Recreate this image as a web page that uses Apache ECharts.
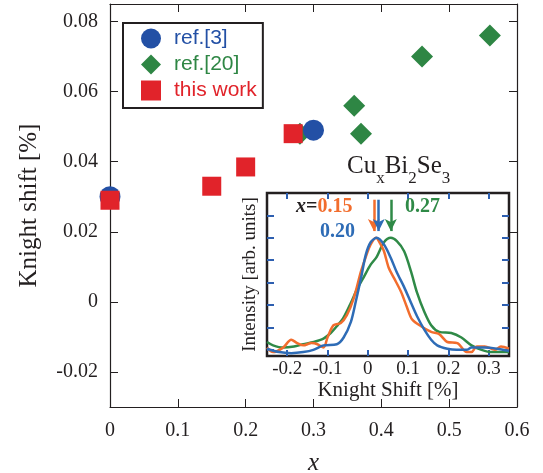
<!DOCTYPE html>
<html>
<head>
<meta charset="utf-8">
<script src="https://cdn.jsdelivr.net/npm/echarts@6/dist/echarts.min.js"></script>
<style>
  html, body { margin: 0; padding: 0; background: #fff; }
  #chart { width: 543px; height: 473px; }
</style>
</head>
<body>
<div id="chart"></div>
<script>
// main panel: Knight shift vs x
const ref3X = [0.0, 0.30]
const ref3Y = [0.030, 0.049]
const ref20X = [0.28, 0.36, 0.37, 0.46, 0.56]
const ref20Y = [0.048, 0.056, 0.048, 0.070, 0.076]
const workX = [0.0, 0.15, 0.20, 0.27]
const workY = [0.029, 0.033, 0.0385, 0.048]
const mainYTicks = [-0.02, 0, 0.02, 0.04, 0.06, 0.08]

// inset: NMR spectra (Knight shift [%], normalized intensity)
const shift15 = [-0.25, -0.235, -0.21, -0.19, -0.175, -0.16, -0.14, -0.125, -0.11, -0.10, -0.085, -0.067, -0.052, -0.035, -0.017, -0.005, 0.007, 0.02, 0.032, 0.04, 0.052, 0.065, 0.082, 0.097, 0.11, 0.132, 0.157, 0.177, 0.197, 0.222, 0.245, 0.257, 0.27, 0.29, 0.315, 0.33, 0.35]
const int15 = [0.02, -0.02, 0.02, 0.09, 0.06, 0.04, 0.06, 0.05, 0.02, 0.11, 0.22, 0.24, 0.31, 0.46, 0.70, 0.83, 0.94, 1.0, 0.94, 0.88, 0.73, 0.64, 0.52, 0.38, 0.27, 0.21, 0.16, 0.14, 0.07, 0.06, -0.02, -0.02, 0.03, 0.03, 0.0, 0.03, 0.01]
const shift20 = [-0.25, -0.22, -0.19, -0.16, -0.135, -0.11, -0.077, -0.06, -0.042, -0.03, -0.017, -0.005, 0.007, 0.022, 0.04, 0.057, 0.072, 0.09, 0.107, 0.122, 0.14, 0.157, 0.172, 0.197, 0.22, 0.245, 0.257, 0.29, 0.32, 0.35]
const int20 = [0.01, -0.02, -0.03, -0.02, 0.0, 0.04, 0.05, 0.11, 0.25, 0.43, 0.64, 0.85, 0.96, 1.0, 0.94, 0.82, 0.69, 0.56, 0.42, 0.30, 0.18, 0.09, 0.04, 0.01, 0.0, 0.0, 0.02, 0.02, 0.01, -0.01]
const shift27 = [-0.25, -0.235, -0.21, -0.183, -0.16, -0.134, -0.11, -0.092, -0.077, -0.06, -0.042, -0.027, -0.01, 0.007, 0.022, 0.04, 0.057, 0.072, 0.09, 0.107, 0.122, 0.14, 0.157, 0.177, 0.207, 0.232, 0.257, 0.282, 0.307, 0.35]
const int27 = [0.07, 0.04, 0.02, 0.03, 0.05, 0.07, 0.10, 0.15, 0.21, 0.29, 0.42, 0.54, 0.65, 0.76, 0.83, 0.96, 1.0, 0.97, 0.88, 0.70, 0.51, 0.34, 0.22, 0.16, 0.15, 0.11, 0.04, 0.0, -0.02, -0.02]
const insetXTicks = [-0.2, -0.1, 0, 0.1, 0.2, 0.3]
const insetYTicks = [0, 0.2, 0.4, 0.6, 0.8, 1.0, 1.2]
// arrows marking the peak positions
const peak15 = 0.015
const peak20 = 0.027
const peak27 = 0.057

const serif = "'Liberation Serif', 'Times New Roman', serif"
const sans = "'Liberation Sans', Arial, sans-serif"
const black = '#231f20'
const tickBlue = '#2d5fb0'

const cBlue = '#2350a5'
const cGreen = '#2e8644'
const cRed = '#e1232a'
const cOrange = '#f26d2d'
const cLBlue = '#2e6cb6'
const cLGreen = '#2f8a47'

function zip (xs, ys) {
  return xs.map((x, i) => [x, ys[i]])
}

function arrow (x, color) {
  return {
    silent: true,
    animation: false,
    symbol: ['none', 'arrow'],
    symbolSize: [9, 12],
    label: { show: false },
    emphasis: { disabled: true },
    lineStyle: { color: color, width: 2.5, type: 'solid' },
    data: [[{ coord: [x, 1.34] }, { coord: [x, 1.06] }]]
  }
}

function fmt (v) {
  return v === 0 ? '0' : String(v)
}

const chart = echarts.init(document.getElementById('chart'))

chart.setOption({
  animation: false,
  backgroundColor: '#fff',
  title: {
    text: '{m|Cu}{s|x}{m|Bi}{s|2}{m|Se}{s|3}',
    left: 347,
    top: 154,
    padding: 0,
    textStyle: {
      fontWeight: 'normal',
      rich: {
        m: { fontFamily: serif, fontWeight: 'normal', fontSize: 25, color: black, lineHeight: 25, verticalAlign: 'top' },
        s: { fontFamily: serif, fontWeight: 'normal', fontSize: 17, color: black, lineHeight: 33, verticalAlign: 'bottom' }
      }
    }
  },
  legend: {
    left: 123,
    top: 23,
    orient: 'vertical',
    selectedMode: false,
    padding: [5, 6, 7, 18],
    itemGap: 5,
    itemWidth: 20,
    itemHeight: 20,
    borderColor: black,
    borderWidth: 2,
    textStyle: { fontFamily: sans, fontSize: 21, padding: [0, 0, 0, 8] },
    data: [
      { name: 'ref.[3]', textStyle: { color: cBlue } },
      { name: 'ref.[20]', textStyle: { color: cGreen } },
      { name: 'this work', textStyle: { color: cRed } }
    ]
  },
  grid: [
    { left: 110, top: 4, width: 407, height: 403, show: false, outerBoundsMode: 'none' },
    { left: 267, top: 193, width: 242, height: 163, show: true, backgroundColor: '#fff', borderColor: black, borderWidth: 2.5, outerBoundsMode: 'none' }
  ],
  xAxis: [
    {
      type: 'value', gridIndex: 0, min: 0, max: 0.6, interval: 0.1, position: 'bottom',
      name: 'x', nameLocation: 'middle', nameGap: 44,
      nameTextStyle: { fontFamily: serif, fontStyle: 'italic', fontSize: 25, color: black },
      axisLine: { show: true, onZero: false, lineStyle: { color: black, width: 1.2 } },
      axisTick: { inside: true, length: 8, lineStyle: { color: black } },
      axisLabel: { fontFamily: serif, fontSize: 20, color: black, margin: 14, formatter: fmt },
      splitLine: { show: false }
    },
    {
      type: 'value', gridIndex: 0, min: 0, max: 0.6, interval: 0.1, position: 'top',
      axisLine: { show: true, onZero: false, lineStyle: { color: black, width: 1.2 } },
      axisTick: { inside: true, length: 8, lineStyle: { color: black } },
      axisLabel: { show: false },
      splitLine: { show: false }
    },
    {
      type: 'value', gridIndex: 1, min: -0.25, max: 0.35, position: 'bottom',
      name: 'Knight Shift [%]', nameLocation: 'middle', nameGap: 24,
      nameTextStyle: { fontFamily: serif, fontSize: 21, color: black },
      axisLine: { show: false, onZero: false },
      axisTick: { inside: true, length: 6, customValues: insetXTicks, lineStyle: { color: tickBlue, width: 2 } },
      axisLabel: { fontFamily: serif, fontSize: 19, color: black, margin: 4, customValues: insetXTicks, formatter: fmt },
      splitLine: { show: false }
    },
    {
      type: 'value', gridIndex: 1, min: -0.25, max: 0.35, position: 'top',
      axisLine: { show: false, onZero: false },
      axisTick: { inside: true, length: 6, customValues: insetXTicks, lineStyle: { color: tickBlue, width: 2 } },
      axisLabel: { show: false },
      splitLine: { show: false }
    }
  ],
  yAxis: [
    {
      type: 'value', gridIndex: 0, min: -0.03, max: 0.085, position: 'left',
      name: 'Knight shift [%]', nameLocation: 'middle', nameGap: 68,
      nameTextStyle: { fontFamily: serif, fontSize: 25, color: black },
      axisLine: { show: true, onZero: false, lineStyle: { color: black, width: 1.2 } },
      axisTick: { inside: true, length: 8, customValues: mainYTicks, lineStyle: { color: black } },
      axisLabel: { fontFamily: serif, fontSize: 20, color: black, margin: 12, customValues: mainYTicks, formatter: fmt },
      splitLine: { show: false }
    },
    {
      type: 'value', gridIndex: 0, min: -0.03, max: 0.085, position: 'right',
      axisLine: { show: true, onZero: false, lineStyle: { color: black, width: 1.2 } },
      axisTick: { inside: true, length: 8, customValues: mainYTicks, lineStyle: { color: black } },
      axisLabel: { show: false },
      splitLine: { show: false }
    },
    {
      type: 'value', gridIndex: 1, min: -0.055, max: 1.4, position: 'left',
      name: 'Intensity [arb. units]', nameLocation: 'middle', nameGap: 7,
      nameTextStyle: { fontFamily: serif, fontSize: 19, color: black },
      axisLine: { show: false, onZero: false },
      axisTick: { inside: true, length: 7, customValues: insetYTicks, lineStyle: { color: tickBlue, width: 2 } },
      axisLabel: { show: false },
      splitLine: { show: false }
    },
    {
      type: 'value', gridIndex: 1, min: -0.055, max: 1.4, position: 'right',
      axisLine: { show: false, onZero: false },
      axisTick: { inside: true, length: 7, customValues: insetYTicks, lineStyle: { color: tickBlue, width: 2 } },
      axisLabel: { show: false },
      splitLine: { show: false }
    }
  ],
  graphic: [
    {
      type: 'text', left: 296, top: 197, z: 100,
      style: {
        text: '{a|x}{b|=}{c|0.15}',
        rich: {
          a: { fontFamily: serif, fontStyle: 'italic', fontWeight: 'bold', fontSize: 20, fill: black },
          b: { fontFamily: serif, fontWeight: 'bold', fontSize: 20, fill: black },
          c: { fontFamily: serif, fontWeight: 'bold', fontSize: 20, fill: cOrange }
        }
      }
    },
    {
      type: 'text', left: 320, top: 222, z: 100,
      style: { text: '0.20', fontFamily: serif, fontWeight: 'bold', fontSize: 20, fill: cLBlue }
    },
    {
      type: 'text', left: 405, top: 197, z: 100,
      style: { text: '0.27', fontFamily: serif, fontWeight: 'bold', fontSize: 20, fill: cLGreen }
    }
  ],
  series: [
    {
      name: 'ref.[20]', type: 'scatter', xAxisIndex: 0, yAxisIndex: 0,
      symbol: 'diamond', symbolSize: 22,
      itemStyle: { color: cGreen, opacity: 1 },
      data: zip(ref20X, ref20Y)
    },
    {
      name: 'ref.[3]', type: 'scatter', xAxisIndex: 0, yAxisIndex: 0,
      symbol: 'circle', symbolSize: 21,
      itemStyle: { color: cBlue, opacity: 1 },
      data: zip(ref3X, ref3Y)
    },
    {
      name: 'this work', type: 'scatter', xAxisIndex: 0, yAxisIndex: 0,
      symbol: 'rect', symbolSize: 19,
      itemStyle: { color: cRed, opacity: 1 },
      data: zip(workX, workY)
    },
    {
      name: 'x=0.27', type: 'line', xAxisIndex: 2, yAxisIndex: 2,
      showSymbol: false, smooth: 0.3, z: 3,
      lineStyle: { color: cLGreen, width: 2.5 },
      data: zip(shift27, int27),
      markLine: arrow(peak27, cLGreen)
    },
    {
      name: 'x=0.15', type: 'line', xAxisIndex: 2, yAxisIndex: 2,
      showSymbol: false, smooth: 0.3, z: 4,
      lineStyle: { color: cOrange, width: 2.5 },
      data: zip(shift15, int15),
      markLine: arrow(peak15, cOrange)
    },
    {
      name: 'x=0.20', type: 'line', xAxisIndex: 2, yAxisIndex: 2,
      showSymbol: false, smooth: 0.3, z: 5,
      lineStyle: { color: cLBlue, width: 2.5 },
      data: zip(shift20, int20),
      markLine: arrow(peak20, cLBlue)
    }
  ]
})
</script>
</body>
</html>
